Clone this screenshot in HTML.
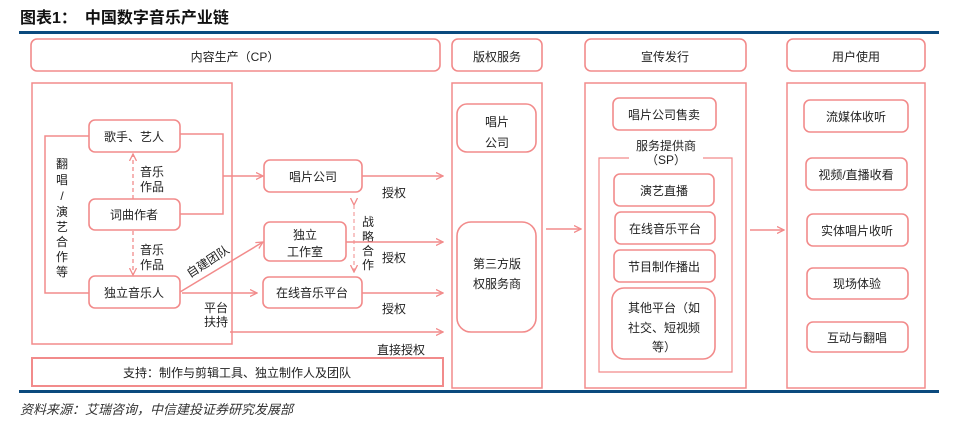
<!DOCTYPE html>
<html><head><meta charset="utf-8"><style>
body{margin:0;background:#fff}
svg{display:block}
text{font-family:"Liberation Sans","Noto Sans CJK SC",sans-serif;font-size:12px;fill:#222}
.b{fill:#fff;stroke:#f28b8b;stroke-width:1.6}
.l{fill:none;stroke:#f28b8b;stroke-width:1.5}
.d{fill:none;stroke:#f28b8b;stroke-width:1.3;stroke-dasharray:4 3}
</style></head><body>
<svg width="964" height="431" viewBox="0 0 964 431">
<defs><marker id="a" markerWidth="8" markerHeight="8" refX="7" refY="4" orient="auto" markerUnits="userSpaceOnUse"><path d="M0,0.5 L7,4 L0,7.5" fill="none" stroke="#f28b8b" stroke-width="1.3"/></marker></defs>
<text x="20" y="23" style="font-size:16px;font-weight:bold;fill:#111">图表1：　中国数字音乐产业链</text>
<rect x="19" y="31" width="920" height="3" fill="#0b4a7e"/>
<rect x="19" y="390" width="920" height="3" fill="#0b4a7e"/>
<text x="20" y="414" style="font-style:italic;font-size:13px;fill:#333">资料来源：艾瑞咨询，中信建投证券研究发展部</text>
<!-- headers -->
<rect class="b" x="31" y="39" width="409" height="32" rx="6"/><text x="235" y="61" text-anchor="middle">内容生产（CP）</text>
<rect class="b" x="452" y="39" width="90" height="32" rx="6"/><text x="497" y="61" text-anchor="middle">版权服务</text>
<rect class="b" x="585" y="39" width="161" height="32" rx="6"/><text x="665" y="61" text-anchor="middle">宣传发行</text>
<rect class="b" x="787" y="39" width="138" height="32" rx="6"/><text x="856" y="61" text-anchor="middle">用户使用</text>
<!-- big boxes -->
<rect class="l" x="32" y="83" width="200" height="261"/>
<rect class="l" x="452" y="83" width="90" height="305"/>
<rect class="l" x="585" y="83" width="161" height="305"/>
<rect class="l" x="787" y="83" width="138" height="305"/>
<!-- left loop -->
<path class="l" d="M89,136 H45 V293 H89"/>
<text x="62" y="168" text-anchor="middle">翻</text><text x="62" y="184" text-anchor="middle">唱</text><text x="62" y="200" text-anchor="middle">/</text><text x="62" y="216" text-anchor="middle">演</text><text x="62" y="231" text-anchor="middle">艺</text><text x="62" y="246" text-anchor="middle">合</text><text x="62" y="261" text-anchor="middle">作</text><text x="62" y="276" text-anchor="middle">等</text>
<path class="l" d="M180,134 H223 V214 H180"/>
<line class="l" x1="223" y1="176" x2="263" y2="176" marker-end="url(#a)"/>
<line class="d" x1="133" y1="199" x2="133" y2="154" marker-end="url(#a)"/>
<line class="d" x1="133" y1="231" x2="133" y2="275" marker-end="url(#a)"/>
<text x="140" y="176">音乐</text><text x="140" y="191">作品</text>
<text x="140" y="254">音乐</text><text x="140" y="269">作品</text>
<rect class="b" x="89" y="120" width="91" height="32" rx="6"/><text x="134" y="141" text-anchor="middle">歌手、艺人</text>
<rect class="b" x="89" y="199" width="91" height="31" rx="6"/><text x="134" y="219" text-anchor="middle">词曲作者</text>
<rect class="b" x="89" y="276" width="91" height="32" rx="6"/><text x="134" y="297" text-anchor="middle">独立音乐人</text>
<line class="l" x1="180" y1="292" x2="263" y2="242" marker-end="url(#a)"/>
<text x="0" y="0" transform="translate(190,278) rotate(-33)">自建团队</text>
<line class="l" x1="182" y1="293" x2="257" y2="293" marker-end="url(#a)"/>
<rect class="b" x="264" y="160" width="98" height="32" rx="6"/><text x="313" y="181" text-anchor="middle">唱片公司</text>
<rect class="b" x="264" y="222" width="82" height="39" rx="6"/><text x="305" y="239" text-anchor="middle">独立</text><text x="305" y="256" text-anchor="middle">工作室</text>
<rect class="b" x="263" y="277" width="99" height="31" rx="6"/><text x="312" y="297" text-anchor="middle">在线音乐平台</text>
<line class="d" x1="354" y1="205" x2="354" y2="272" marker-end="url(#a)" marker-start="url(#a)" style="stroke-width:1"/>
<text x="368" y="226" text-anchor="middle">战</text><text x="368" y="241" text-anchor="middle">略</text><text x="368" y="255" text-anchor="middle">合</text><text x="368" y="269" text-anchor="middle">作</text>
<line class="l" x1="362" y1="176" x2="443" y2="176" marker-end="url(#a)"/>
<line class="l" x1="346" y1="242" x2="443" y2="242" marker-end="url(#a)"/>
<line class="l" x1="362" y1="293" x2="443" y2="293" marker-end="url(#a)"/>
<line class="l" x1="230" y1="332" x2="443" y2="332" marker-end="url(#a)"/>
<text x="382" y="197">授权</text><text x="382" y="262">授权</text><text x="382" y="313">授权</text><text x="377" y="354">直接授权</text>
<text x="204" y="312">平台</text><text x="204" y="326">扶持</text>
<rect x="32" y="358" width="411" height="28" fill="#fff" stroke="#f28b8b" stroke-width="2"/><text x="237" y="377" text-anchor="middle">支持：制作与剪辑工具、独立制作人及团队</text>
<!-- 版权 -->
<rect class="b" x="457" y="104" width="79" height="48" rx="10"/><text x="497" y="126" text-anchor="middle">唱片</text><text x="497" y="147" text-anchor="middle">公司</text>
<rect class="b" x="457" y="222" width="79" height="110" rx="14"/><text x="497" y="268" text-anchor="middle">第三方版</text><text x="497" y="288" text-anchor="middle">权服务商</text>
<line class="l" x1="546" y1="229" x2="581" y2="229" marker-end="url(#a)"/>
<line class="l" x1="750" y1="230" x2="784" y2="230" marker-end="url(#a)"/>
<!-- 宣传 -->
<rect class="b" x="613" y="98" width="103" height="32" rx="6"/><text x="664" y="119" text-anchor="middle">唱片公司售卖</text>
<path class="l" d="M629,158 H599 V372 H732 V158 H703" style="stroke-width:1.2"/>
<text x="666" y="150" text-anchor="middle">服务提供商</text><text x="666" y="164" text-anchor="middle">（SP）</text>
<rect class="b" x="614" y="174" width="100" height="32" rx="6"/><text x="664" y="195" text-anchor="middle">演艺直播</text>
<rect class="b" x="615" y="212" width="100" height="32" rx="6"/><text x="665" y="233" text-anchor="middle">在线音乐平台</text>
<rect class="b" x="614" y="250" width="101" height="32" rx="6"/><text x="664" y="271" text-anchor="middle">节目制作播出</text>
<rect class="b" x="612" y="288" width="103" height="71" rx="12"/><text x="664" y="312" text-anchor="middle">其他平台（如</text><text x="664" y="332" text-anchor="middle">社交、短视频</text><text x="664" y="351" text-anchor="middle">等）</text>
<!-- 用户 -->
<rect class="b" x="804" y="100" width="104" height="32" rx="6"/><text x="856" y="121" text-anchor="middle">流媒体收听</text>
<rect class="b" x="806" y="158" width="101" height="32" rx="6"/><text x="856" y="179" text-anchor="middle">视频/直播收看</text>
<rect class="b" x="807" y="214" width="101" height="32" rx="6"/><text x="857" y="235" text-anchor="middle">实体唱片收听</text>
<rect class="b" x="807" y="268" width="101" height="31" rx="6"/><text x="857" y="288" text-anchor="middle">现场体验</text>
<rect class="b" x="807" y="322" width="101" height="30" rx="6"/><text x="857" y="342" text-anchor="middle">互动与翻唱</text>
</svg>
</body></html>
